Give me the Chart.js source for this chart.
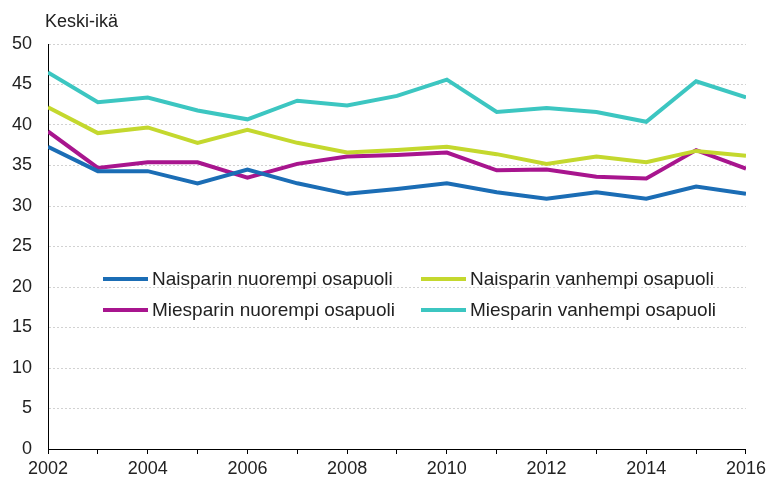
<!DOCTYPE html>
<html>
<head>
<meta charset="utf-8">
<script src="https://cdn.jsdelivr.net/npm/chart.js@4/dist/chart.umd.min.js"></script>
<style>
  html, body { margin: 0; padding: 0; background: #fff; }
  #wrap { position: relative; width: 770px; height: 477px; }
</style>
</head>
<body>
<div id="wrap"><canvas id="c" width="770" height="477"></canvas></div>
<script>
const years = [2002, 2003, 2004, 2005, 2006, 2007, 2008, 2009, 2010, 2011, 2012, 2013, 2014, 2015, 2016];
const naisNuorempi   = [37.3, 34.3, 34.3, 32.8, 34.5, 32.8, 31.5, 32.1, 32.8, 31.7, 30.9, 31.7, 30.9, 32.4, 31.5];
const naisVanhempi   = [42.2, 39.0, 39.7, 37.8, 39.4, 37.8, 36.6, 36.9, 37.3, 36.4, 35.2, 36.1, 35.4, 36.8, 36.2];
const miesNuorempi   = [39.2, 34.7, 35.4, 35.4, 33.5, 35.2, 36.1, 36.3, 36.6, 34.4, 34.5, 33.6, 33.4, 36.9, 34.6];
const miesVanhempi   = [46.5, 42.8, 43.4, 41.8, 40.7, 43.0, 42.4, 43.6, 45.6, 41.6, 42.1, 41.6, 40.4, 45.4, 43.4];
const seriesNames = ["Naisparin nuorempi osapuoli", "Naisparin vanhempi osapuoli",
                     "Miesparin nuorempi osapuoli", "Miesparin vanhempi osapuoli"];
const yTicks = [0, 5, 10, 15, 20, 25, 30, 35, 40, 45, 50];
const xLabelYears = [2002, 2004, 2006, 2008, 2010, 2012, 2014, 2016];
const yTitle = "Keski-ikä";

const colors = ["#1b6db5", "#c4d82e", "#a8158e", "#3cc6c1"];
const FONT = "'Liberation Sans', Arial, sans-serif";

const toXY = arr => arr.map((v, i) => ({ x: years[i], y: v }));
const allSeries = [naisNuorempi, naisVanhempi, miesNuorempi, miesVanhempi];

const datasets = allSeries.map((s, i) => ({
  label: seriesNames[i],
  data: toXY(s),
  borderColor: colors[i],
  backgroundColor: colors[i],
  borderWidth: 4,
  pointRadius: 0,
  tension: 0,
  fill: false
}));

const extras = {
  id: 'extras',
  afterDraw(chart) {
    const ctx = chart.ctx;
    const a = chart.chartArea;
    ctx.save();
    // y axis title
    ctx.fillStyle = '#222';
    ctx.font = "18px " + FONT;
    ctx.textBaseline = 'middle';
    ctx.textAlign = 'left';
    ctx.fillText(yTitle, a.left - 3, 22);
    // legend inside plot area, 2 columns x 2 rows
    const colX = [a.left + 55, a.left + 373];
    const rowY = [a.top + 235, a.top + 266];
    chart.data.datasets.forEach((ds, i) => {
      const cx = colX[i % 2];
      const cy = rowY[Math.floor(i / 2)];
      ctx.strokeStyle = ds.borderColor;
      ctx.lineWidth = 4;
      ctx.lineCap = 'butt';
      ctx.beginPath();
      ctx.moveTo(cx, cy);
      ctx.lineTo(cx + 45, cy);
      ctx.stroke();
      ctx.fillStyle = '#222';
      ctx.font = "19px " + FONT;
      ctx.textBaseline = 'middle';
      ctx.fillText(ds.label, cx + 49, cy + 1);
    });
    ctx.restore();
  }
};

new Chart(document.getElementById('c'), {
  type: 'line',
  data: { datasets },
  options: {
    responsive: false,
    animation: false,
    layout: { padding: { left: 0, right: 21, top: 44, bottom: 0 } },
    plugins: {
      legend: { display: false },
      tooltip: { enabled: false },
      title: { display: false }
    },
    scales: {
      x: {
        type: 'linear',
        min: years[0],
        max: years[years.length - 1],
        afterBuildTicks: (scale) => { scale.ticks = years.map(v => ({ value: v })); },
        afterFit: (scale) => { scale.height = 28; },
        ticks: {
          autoSkip: false,
          maxRotation: 0,
          padding: 4,
          color: '#222',
          font: { family: FONT, size: 18 },
          callback: (v) => xLabelYears.includes(v) ? String(v) : ''
        },
        grid: {
          drawOnChartArea: false,
          drawTicks: true,
          tickLength: 5,
          color: '#000',
          lineWidth: 1
        },
        border: { display: true, color: '#000', width: 1 }
      },
      y: {
        min: 0,
        max: 50,
        afterBuildTicks: (scale) => { scale.ticks = yTicks.map(v => ({ value: v })); },
        afterFit: (scale) => { scale.width = 48; },
        ticks: {
          padding: 16,
          color: '#222',
          font: { family: FONT, size: 18 }
        },
        grid: {
          drawTicks: false,
          color: '#d2d2d2',
          lineWidth: 1
        },
        border: { display: true, color: '#000', width: 1, dash: [2, 2] }
      }
    }
  },
  plugins: [extras]
});
</script>
</body>
</html>
